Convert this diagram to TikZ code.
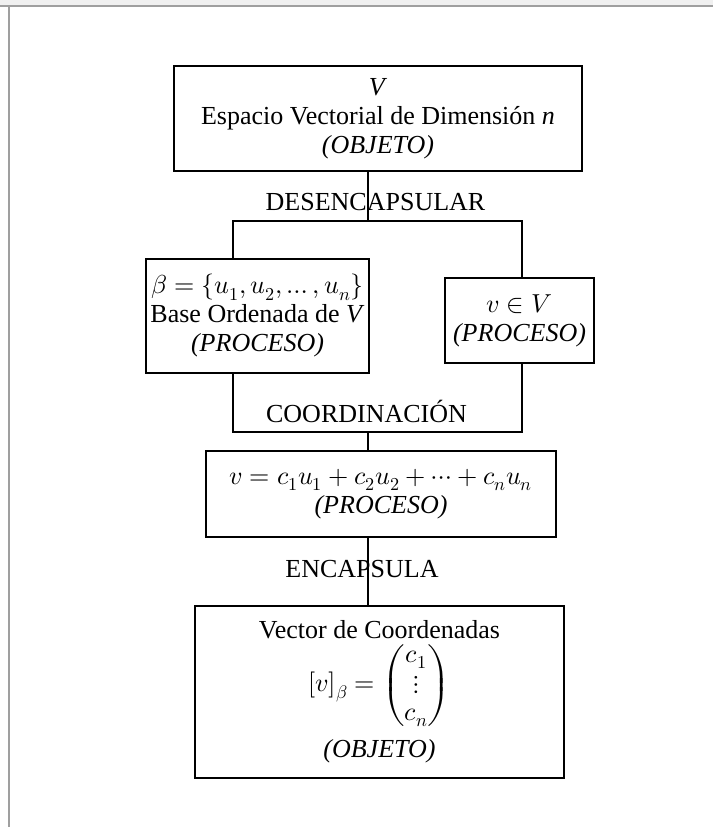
\documentclass[tikz,border=0pt]{standalone}
\usepackage{amsmath}
\usepackage{fontspec}
\usepackage{unicode-math}
\setmainfont{Liberation Serif}
\begin{document}
\begin{tikzpicture}[x=1pt,y=1pt,
  every node/.style={font=\fontsize{26}{29}\selectfont},
  box/.style={draw, line width=1.3pt, align=center, inner sep=0pt},
  bigbox/.style={box, line width=2.2pt},
  lbl/.style={anchor=base, inner sep=0pt},
  conn/.style={line width=1.3pt}]
\useasboundingbox (0,0) rectangle (713,-827);
% page frame
\fill[gray!12] (0,0) rectangle (713,-5);
\draw[gray!75, line width=1.5pt] (0,-6) -- (713,-6);
\draw[gray!75, line width=1.5pt] (9,-6) -- (9,-827);
% boxes
\node[bigbox, minimum width=408, minimum height=105] (top) at (378,-118.5)
  {\textit{V}\\ Espacio Vectorial de Dimensión \textit{n}\\ \textit{(OBJETO)}};
\node[box, minimum width=223, minimum height=114] (left) at (257.5,-316)
  {$\beta = \{u_1, u_2, \ldots, u_n\}$\\ Base Ordenada de \textit{V}\\ \textit{(PROCESO)}};
\node[box, minimum width=149, minimum height=85] (right) at (519.5,-320.5)
  {$v \in V$\\ \textit{(PROCESO)}};
\node[box, minimum width=350, minimum height=86] (mid) at (381,-494)
  {$v = c_1u_1 + c_2u_2 + \cdots + c_nu_n$\\ \textit{(PROCESO)}};
\node[bigbox, minimum width=369, minimum height=172] (bot) at (379.5,-692)
  {Vector de Coordenadas\\[2pt] $[v]_\beta = \begin{pmatrix} c_1\\ \vdots\\ c_n\end{pmatrix}$\\[10pt] \textit{(OBJETO)}};
% junctions
\coordinate (j1) at (368,-221);
\coordinate (jl) at (233,-221);
\coordinate (jr) at (522,-221);
\coordinate (kl) at (233,-432);
\coordinate (kr) at (522,-432);
\coordinate (k1) at (368,-432);
% connectors
\draw[conn] (j1 |- top.south) -- (j1);
\draw[conn] (jl |- left.north) -- (jl) -- (jr) -- (jr |- right.north);
\draw[conn] (jl |- left.south) -- (kl) -- (kr) -- (kr |- right.south);
\draw[conn] (k1) -- (k1 |- mid.north);
\draw[conn] (k1 |- mid.south) -- (k1 |- bot.north);
% labels
\node[lbl] (l1) at (375.5,-210) {DESENCAPSULAR};
\node[lbl] (l2) at (366.5,-422) {COORDINACIÓN};
\node[lbl] (l3) at (362,-577) {ENCAPSULA};
\end{tikzpicture}
\end{document}
